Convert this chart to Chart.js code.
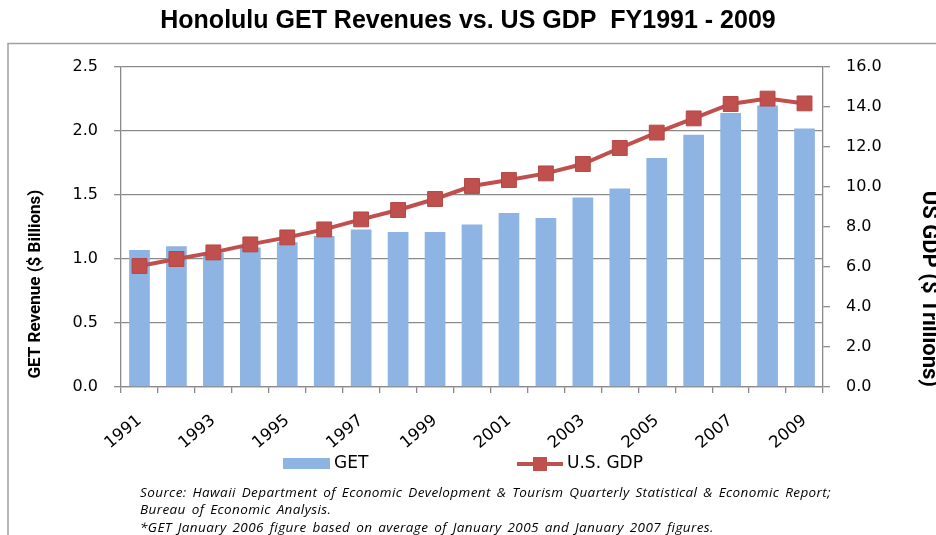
<!DOCTYPE html>
<html><head><meta charset="utf-8">
<script src="https://cdn.jsdelivr.net/npm/chart.js@4.4.1/dist/chart.umd.min.js"></script>
<style>html,body{margin:0;padding:0;background:#fff;}#wrap{width:936px;height:535px;position:relative;}</style>
</head><body><div id="wrap"><canvas id="c" width="936" height="535"></canvas></div>
<script>
const years = ['1991','1992','1993','1994','1995','1996','1997','1998','1999','2000','2001','2002','2003','2004','2005','2006','2007','2008','2009'];
const getRevenue = [1.07,1.10,1.05,1.09,1.13,1.18,1.23,1.21,1.21,1.27,1.36,1.32,1.48,1.55,1.79,1.97,2.14,2.20,2.02];
const usGdp = [6.05,6.40,6.73,7.13,7.48,7.88,8.38,8.85,9.40,10.05,10.35,10.68,11.15,11.95,12.72,13.43,14.15,14.42,14.18];
const titleText = 'Honolulu GET Revenues vs. US GDP  FY1991 - 2009';
const leftAxisTitle = '  GET Revenue ($ Billions)';
const rightAxisTitle = 'US GDP ($ Trillions)';
const seriesNames = ['GET', 'U.S. GDP'];
const sourceLines = [
  'Source: Hawaii Department of Economic Development & Tourism Quarterly Statistical & Economic Report;',
  'Bureau of Economic Analysis.',
  '*GET January 2006 figure based on average of January 2005 and January 2007 figures.'
];

const gridColor = '#8a8a8a';
const tickFont = { family: '"DejaVu Sans"', size: 16 };

const decor = {
  id: 'decor',
  beforeDraw(chart) {
    const ctx = chart.ctx;
    ctx.save();
    ctx.strokeStyle = '#a0a0a0'; ctx.lineWidth = 1.5;
    ctx.beginPath(); ctx.moveTo(8, 535); ctx.lineTo(8, 43.5); ctx.lineTo(936, 43.5); ctx.stroke();
    ctx.restore();
  },
  afterDraw(chart) {
    const ctx = chart.ctx;
    const bar = chart.data.datasets[0], line = chart.data.datasets[1];
    ctx.save();
    ctx.fillStyle = bar.backgroundColor;
    ctx.fillRect(283, 458, 47, 11);
    ctx.font = '17px "DejaVu Sans"'; ctx.fillStyle = '#000'; ctx.textBaseline = 'middle';
    ctx.fillText(bar.label, 334, 464);
    ctx.strokeStyle = line.borderColor; ctx.lineWidth = 4;
    ctx.beginPath(); ctx.moveTo(517, 464); ctx.lineTo(563, 464); ctx.stroke();
    ctx.fillStyle = line.pointBackgroundColor; ctx.fillRect(533, 457, 14, 14);
    ctx.fillStyle = '#000';
    ctx.fillText(line.label, 567, 464);
    ctx.font = 'italic 13.5px "Open Sans"';
    try { ctx.letterSpacing = '0.4px'; ctx.wordSpacing = '2px'; } catch (e) {}
    sourceLines.forEach((t, i) => ctx.fillText(t, 140, 493 + i * 17.5));
    ctx.restore();
  }
};

new Chart(document.getElementById('c'), {
  data: {
    labels: years,
    datasets: [
      { type: 'bar', label: seriesNames[0], data: getRevenue, yAxisID: 'y',
        backgroundColor: '#8EB4E3', borderWidth: 0, barPercentage: 0.56, categoryPercentage: 1, order: 2 },
      { type: 'line', label: seriesNames[1], data: usGdp, yAxisID: 'y1',
        borderColor: '#C0504D', borderWidth: 4, tension: 0,
        pointStyle: 'rect', pointRadius: 10.5, pointBackgroundColor: '#C0504D',
        pointBorderColor: '#b44744', pointBorderWidth: 1, order: 1 }
    ]
  },
  options: {
    responsive: false, animation: false, devicePixelRatio: 1,
    layout: { padding: { left: 0, right: 0, top: 0, bottom: 70 } },
    plugins: {
      legend: { display: false },
      tooltip: { enabled: false },
      title: { display: true, text: titleText, color: '#000',
        font: { family: '"Liberation Sans", Arial', size: 25, weight: 'bold', lineHeight: 1.2 },
        padding: { top: 6.5, bottom: 30.5 } }
    },
    scales: {
      x: {
        offset: true,
        grid: { display: true, drawOnChartArea: false, offset: true, drawTicks: true, tickLength: 6, color: gridColor, lineWidth: 1.3 },
        border: { display: true, color: gridColor, width: 1.3 },
        ticks: { autoSkip: false, maxRotation: 40, minRotation: 40, padding: 18, font: { family: '"DejaVu Sans"', size: 16.5 }, color: '#000',
          callback(v, i) { return i % 2 === 0 ? years[i] : ''; } },
        afterFit(s) { s.height = 78; }
      },
      y: {
        position: 'left', min: 0, max: 2.5,
        ticks: { stepSize: 0.5, padding: 16, font: tickFont, color: '#000', callback: v => Number(v).toFixed(1) },
        grid: { color: gridColor, lineWidth: 1.3, tickLength: 7 },
        border: { display: true, color: gridColor, width: 1.3 },
        title: { display: true, text: leftAxisTitle, align: 'start', color: '#000',
          font: { family: 'Roboto', size: 17, weight: 'bold', lineHeight: 1.2 }, padding: { top: 26, bottom: 0 } },
        afterFit(s) { s.width = 121; }
      },
      y1: {
        position: 'right', min: 0, max: 16,
        ticks: { stepSize: 2, padding: 16, font: tickFont, color: '#000', callback: v => Number(v).toFixed(1) },
        grid: { drawOnChartArea: false, color: gridColor, lineWidth: 1.3, tickLength: 7 },
        border: { display: true, color: gridColor, width: 1.3 },
        title: { display: true, text: rightAxisTitle, align: 'start', color: '#000',
          font: { family: 'Roboto', size: 22, weight: 'bold', lineHeight: 0.66 }, padding: { top: 0, bottom: 0 } },
        afterFit(s) { s.width = 113; }
      }
    }
  },
  plugins: [decor]
});
</script></body></html>
